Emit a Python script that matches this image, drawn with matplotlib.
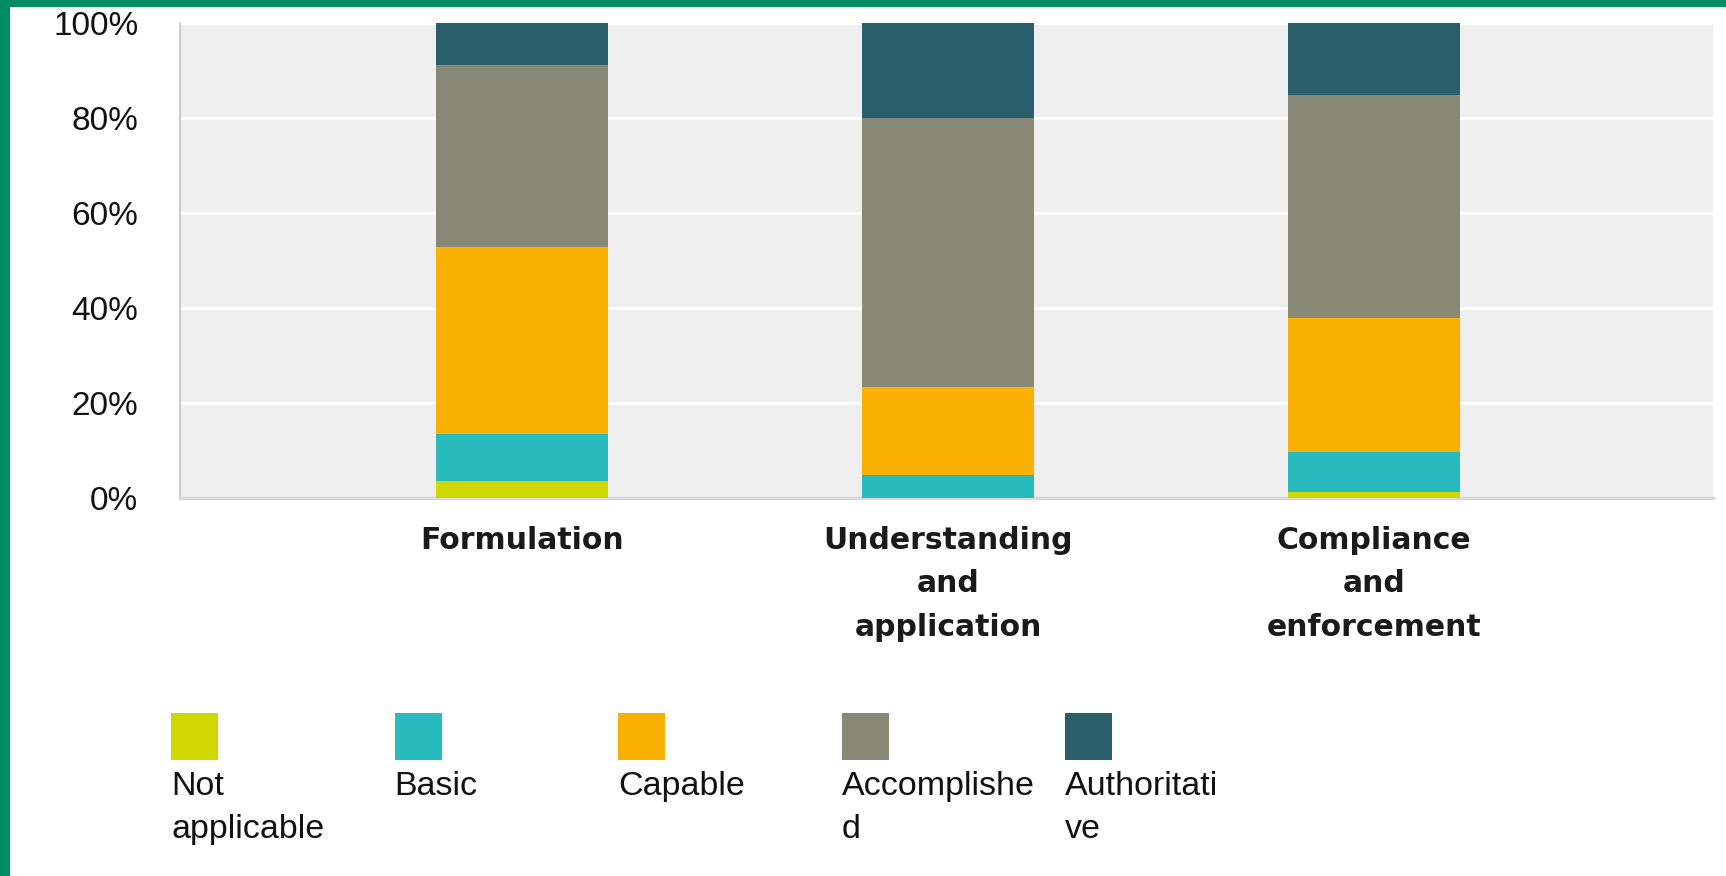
import matplotlib
matplotlib.use("Agg")
import matplotlib.pyplot as plt
from matplotlib.patches import Rectangle
import numpy as np

# ---- data ----
categories = ["Formulation", "Understanding\nand\napplication", "Compliance\nand\nenforcement"]
series_names = ["Not\napplicable", "Basic", "Capable", "Accomplishe\nd", "Authoritati\nve"]
not_applicable = [3.6, 0.0, 1.3]
basic = [9.9, 4.8, 8.5]
capable = [39.4, 18.5, 28.2]
accomplished = [38.2, 56.6, 46.8]
authoritative = [8.9, 20.1, 15.2]
yticks = [0, 20, 40, 60, 80, 100]
ytick_labels = ["0%", "20%", "40%", "60%", "80%", "100%"]

colors = ["#D0D600", "#27BBBE", "#F9B000", "#888877", "#2B5E6B"]
series = [not_applicable, basic, capable, accomplished, authoritative]

plt.rcParams['font.family'] = ['Liberation Sans', 'DejaVu Sans']

W, H = 1726, 876
fig = plt.figure(figsize=(W / 100, H / 100), dpi=100)
fig.patch.set_facecolor("white")

# green frame (left and top)
fig.add_artist(Rectangle((0, 0), 10 / W, 1, transform=fig.transFigure,
                         facecolor="#008C62", edgecolor="none", zorder=0))
fig.add_artist(Rectangle((0, 1 - 7 / H), 1, 7 / H, transform=fig.transFigure,
                         facecolor="#008C62", edgecolor="none", zorder=0))

left, right, top, bottom = 180, 1713, 22.7, 498.3
ax = fig.add_axes([left / W, 1 - bottom / H, (right - left) / W, (bottom - top) / H])
ax.set_facecolor("#EFEFEF")

x = np.arange(len(categories))
bottoms = np.zeros(len(categories))
for vals, col in zip(series, colors):
    ax.bar(x, vals, width=0.404, bottom=bottoms, color=col, edgecolor="none", zorder=3)
    bottoms += np.array(vals)

ax.set_xlim(-0.803, 2.796)
ax.set_ylim(0, 100)
ax.set_yticks(yticks)
ax.set_yticklabels(ytick_labels, fontsize=24, color="#111111")
ax.set_xticks(x)
ax.set_xticklabels(categories, fontsize=21.5, fontweight="bold", color="#1a1a1a",
                   linespacing=1.62, family=["DejaVu Sans"])
ax.tick_params(axis="y", length=0, pad=30)
ax.tick_params(axis="x", length=0, pad=20)

ax.yaxis.grid(True, color="white", linewidth=2.2, zorder=1)
ax.set_axisbelow(True)
for s in ["top", "right"]:
    ax.spines[s].set_visible(False)
ax.spines["left"].set_color("#C4C4C4")
ax.spines["left"].set_linewidth(1.2)
ax.spines["bottom"].set_color("#D9D9D9")
ax.spines["bottom"].set_linewidth(2.5)

# ---- legend (squares with labels beneath) ----
leg_x0, leg_dx = 171, 223.5
sq_w, sq_top, sq_h = 47, 713, 47
for i, (name, col) in enumerate(zip(series_names, colors)):
    lx = leg_x0 + i * leg_dx
    fig.add_artist(Rectangle((lx / W, 1 - (sq_top + sq_h) / H), sq_w / W, sq_h / H,
                             transform=fig.transFigure, facecolor=col, edgecolor="none"))
    fig.text(lx / W, 1 - 771 / H, name, ha="left", va="top", fontsize=24.5,
             color="#111111", linespacing=1.48)

fig.savefig("out.png", dpi=100)
